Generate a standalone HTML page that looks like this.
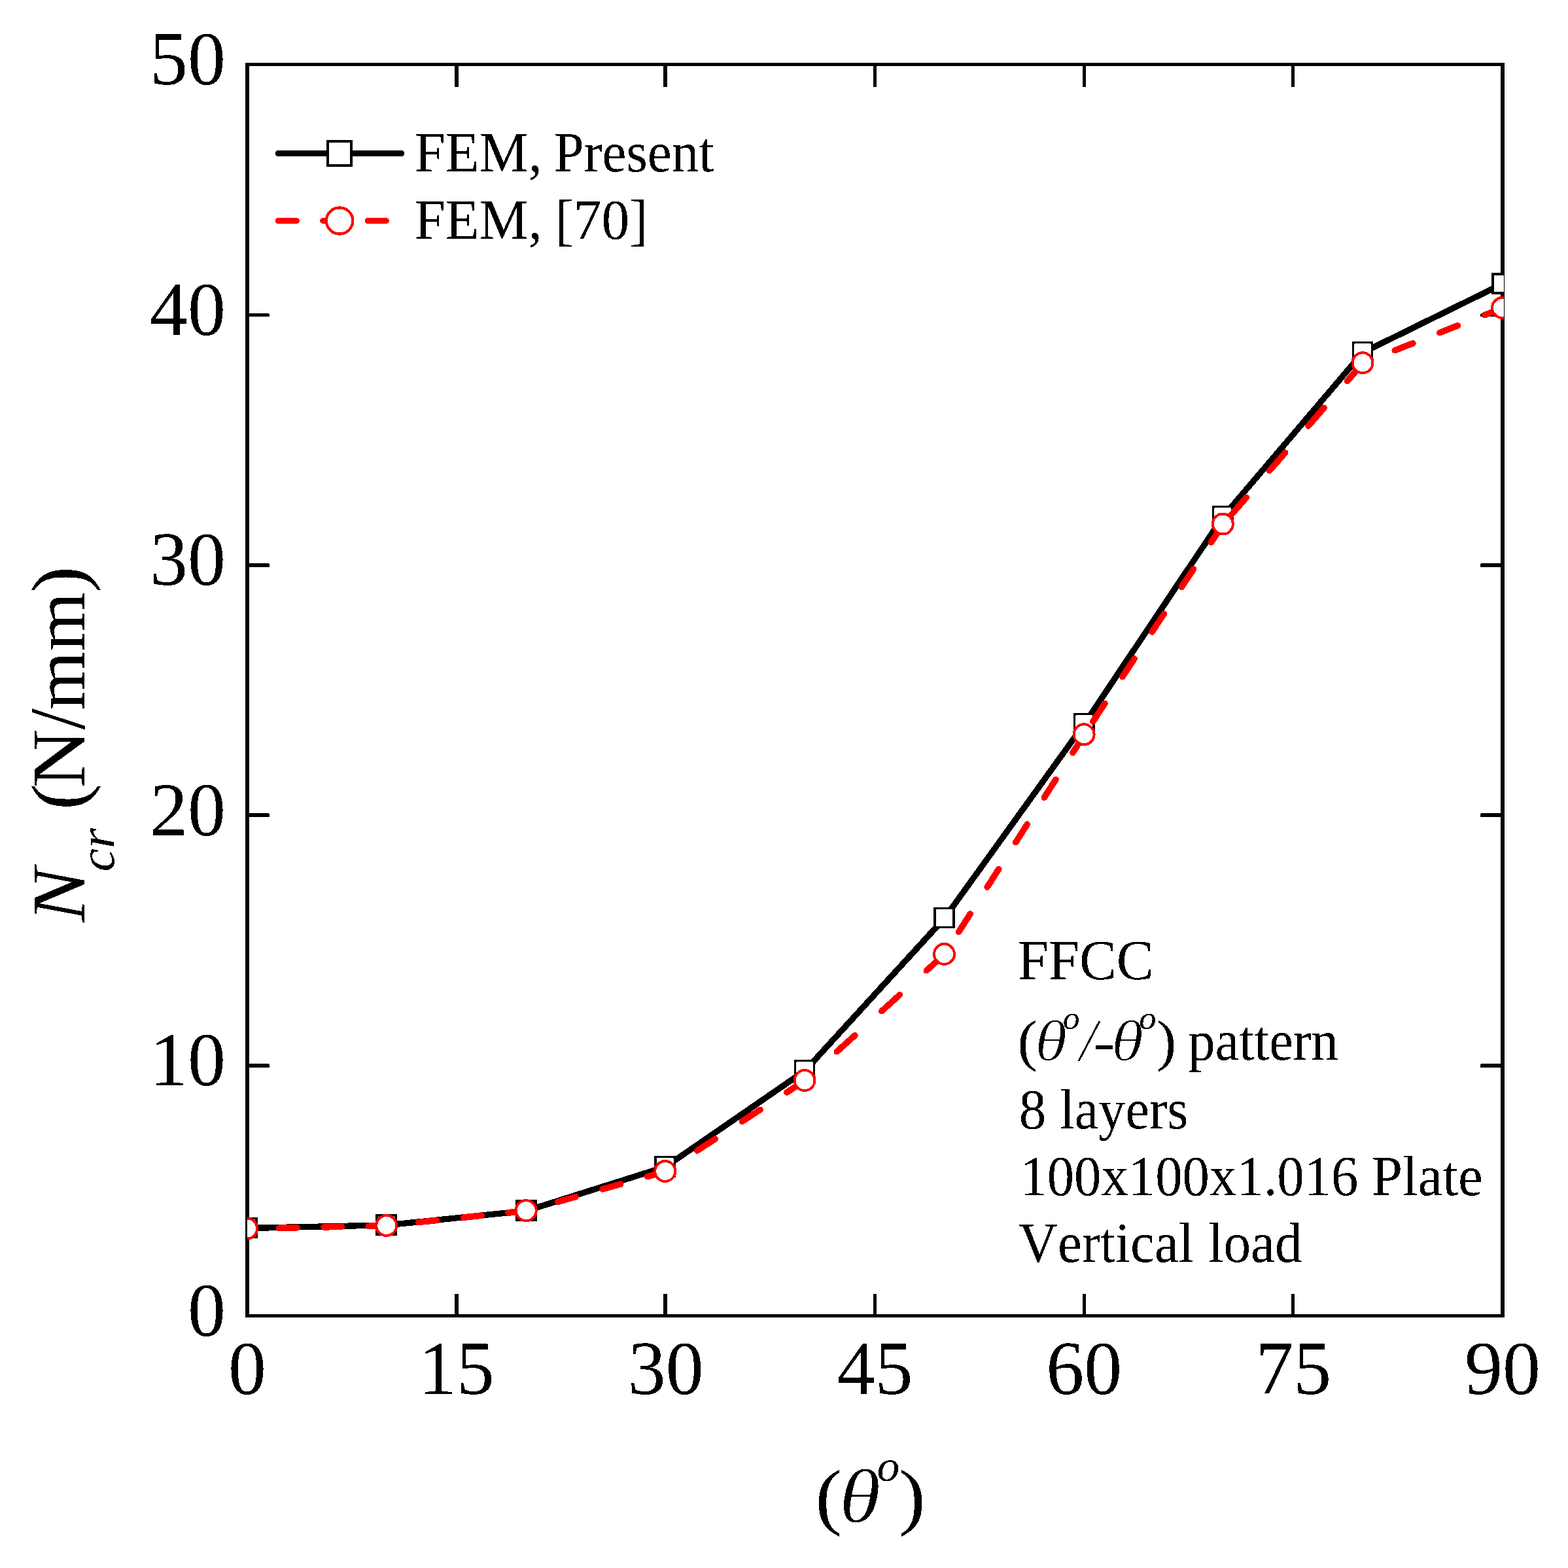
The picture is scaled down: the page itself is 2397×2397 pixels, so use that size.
<!DOCTYPE html>
<html lang="en"><head><meta charset="utf-8"><title>Critical buckling load vs fibre angle</title>
<style>html,body{margin:0;padding:0;background:#fff}svg{display:block}text{font-family:"Liberation Serif",serif;fill:#000;font-kerning:none}.it{font-style:italic}</style></head><body>
<svg width="2397" height="2397" viewBox="0 0 2397 2397">
<defs><clipPath id="plot"><rect x="378" y="96" width="1921" height="1918"/></clipPath><filter id="bin" filterUnits="userSpaceOnUse" x="0" y="0" width="2397" height="2397" color-interpolation-filters="sRGB"><feComponentTransfer><feFuncR type="discrete" tableValues="0 1"/><feFuncG type="discrete" tableValues="0 1"/><feFuncB type="discrete" tableValues="0 1"/></feComponentTransfer></filter></defs>
<rect width="2397" height="2397" fill="#fff"/>
<g id="figure" filter="url(#bin)">
<rect width="2397" height="2397" fill="#fff"/>
<g id="axes" shape-rendering="crispEdges">
<rect x="375" y="96" width="1925" height="5" fill="#000"/>
<rect x="375" y="2009" width="1925" height="5" fill="#000"/>
<rect x="375" y="96" width="6" height="1918" fill="#000"/>
<rect x="2294" y="96" width="6" height="1918" fill="#000"/>
</g>
<g id="ticks" fill="#000">
<rect x="695" y="98" width="6" height="35" rx="1.5"/>
<rect x="695" y="1978" width="6" height="34" rx="1"/>
<rect x="1014" y="98" width="6" height="35" rx="1.5"/>
<rect x="1014" y="1978" width="6" height="34" rx="1"/>
<rect x="1335" y="98" width="5" height="35" rx="1.5"/>
<rect x="1335" y="1978" width="5" height="34" rx="1"/>
<rect x="1655" y="98" width="5" height="35" rx="1.5"/>
<rect x="1655" y="1978" width="5" height="34" rx="1"/>
<rect x="1974" y="98" width="5" height="35" rx="1.5"/>
<rect x="1974" y="1978" width="5" height="34" rx="1"/>
<rect x="378" y="479" width="34" height="5" rx="1.5"/>
<rect x="2263" y="479" width="34" height="5" rx="1.5"/>
<rect x="378" y="861" width="34" height="6" rx="1.5"/>
<rect x="2263" y="861" width="34" height="6" rx="1.5"/>
<rect x="378" y="1243" width="34" height="6" rx="1.5"/>
<rect x="2263" y="1243" width="34" height="6" rx="1.5"/>
<rect x="378" y="1626" width="34" height="6" rx="1.5"/>
<rect x="2263" y="1626" width="34" height="6" rx="1.5"/>
</g>
<g id="ticklabels" font-size="116">
<text x="345" y="2042.0" text-anchor="end">0</text>
<text x="345" y="1659.4" text-anchor="end">10</text>
<text x="345" y="1276.8" text-anchor="end">20</text>
<text x="345" y="894.2" text-anchor="end">30</text>
<text x="345" y="511.6" text-anchor="end">40</text>
<text x="345" y="129.0" text-anchor="end">50</text>
<text x="378.0" y="2131" text-anchor="middle">0</text>
<text x="697.8" y="2131" text-anchor="middle">15</text>
<text x="1017.7" y="2131" text-anchor="middle">30</text>
<text x="1337.5" y="2131" text-anchor="middle">45</text>
<text x="1657.3" y="2131" text-anchor="middle">60</text>
<text x="1977.2" y="2131" text-anchor="middle">75</text>
<text x="2297.0" y="2131" text-anchor="middle">90</text>
</g>
<g id="data" clip-path="url(#plot)">
<polyline points="378.0,1877.5 591.2,1872.9 804.7,1851.0 1017.3,1783.7 1230.5,1636.8 1444.0,1403.5 1657.6,1106.8 1869.8,789.8 2083.5,538.8 2297.0,434.0" fill="none" stroke="#000" stroke-width="9.3" stroke-linejoin="round"/>
<rect x="362.85" y="1862.40" width="29.3" height="29.2" fill="#fff" stroke="#000" stroke-width="3.5"/>
<rect x="576.05" y="1857.80" width="29.3" height="29.2" fill="#fff" stroke="#000" stroke-width="3.5"/>
<rect x="789.55" y="1835.90" width="29.3" height="29.2" fill="#fff" stroke="#000" stroke-width="3.5"/>
<rect x="1002.15" y="1768.60" width="29.3" height="29.2" fill="#fff" stroke="#000" stroke-width="3.5"/>
<rect x="1215.35" y="1621.70" width="29.3" height="29.2" fill="#fff" stroke="#000" stroke-width="3.5"/>
<rect x="1428.85" y="1388.40" width="29.3" height="29.2" fill="#fff" stroke="#000" stroke-width="3.5"/>
<rect x="1642.45" y="1091.70" width="29.3" height="29.2" fill="#fff" stroke="#000" stroke-width="3.5"/>
<rect x="1854.65" y="774.70" width="29.3" height="29.2" fill="#fff" stroke="#000" stroke-width="3.5"/>
<rect x="2068.35" y="523.70" width="29.3" height="29.2" fill="#fff" stroke="#000" stroke-width="3.5"/>
<rect x="2281.85" y="418.90" width="29.3" height="29.2" fill="#fff" stroke="#000" stroke-width="3.5"/>
<line x1="591.1" y1="1873.8" x2="377.9" y2="1878.4" stroke="#f00" stroke-width="9.6" stroke-linecap="round" stroke-dasharray="27.61 40.91"/>
<line x1="804.6" y1="1850.9" x2="591.1" y2="1873.8" stroke="#f00" stroke-width="9.6" stroke-linecap="round" stroke-dasharray="27.76 41.13"/>
<line x1="1017.2" y1="1790.7" x2="804.6" y2="1850.9" stroke="#f00" stroke-width="9.6" stroke-linecap="round" stroke-dasharray="28.69 42.51"/>
<line x1="1230.4" y1="1651.9" x2="1017.2" y2="1790.7" stroke="#f00" stroke-width="9.6" stroke-linecap="round" stroke-dasharray="32.93 48.80"/>
<line x1="1443.9" y1="1458.8" x2="1230.4" y2="1651.9" stroke="#f00" stroke-width="9.6" stroke-linecap="round" stroke-dasharray="37.21 55.15"/>
<line x1="1657.5" y1="1123.1" x2="1443.9" y2="1458.8" stroke="#f00" stroke-width="9.6" stroke-linecap="round" stroke-dasharray="32.71 48.48"/>
<line x1="1869.7" y1="801.4" x2="1657.5" y2="1123.1" stroke="#f00" stroke-width="9.6" stroke-linecap="round" stroke-dasharray="33.06 49.00"/>
<line x1="2083.4" y1="555.0" x2="1869.7" y2="801.4" stroke="#f00" stroke-width="9.6" stroke-linecap="round" stroke-dasharray="36.53 54.14"/>
<line x1="2296.9" y1="470.8" x2="2083.4" y2="555.0" stroke="#f00" stroke-width="9.6" stroke-linecap="round" stroke-dasharray="29.67 43.97"/>
<circle cx="377.5" cy="1878.1" r="15.5" fill="#fff" stroke="#f00" stroke-width="4"/>
<circle cx="590.7" cy="1873.5" r="15.5" fill="#fff" stroke="#f00" stroke-width="4"/>
<circle cx="804.2" cy="1850.6" r="15.5" fill="#fff" stroke="#f00" stroke-width="4"/>
<circle cx="1016.8" cy="1790.4" r="15.5" fill="#fff" stroke="#f00" stroke-width="4"/>
<circle cx="1230.0" cy="1651.6" r="15.5" fill="#fff" stroke="#f00" stroke-width="4"/>
<circle cx="1443.5" cy="1458.5" r="15.5" fill="#fff" stroke="#f00" stroke-width="4"/>
<circle cx="1657.1" cy="1122.8" r="15.5" fill="#fff" stroke="#f00" stroke-width="4"/>
<circle cx="1869.3" cy="801.1" r="15.5" fill="#fff" stroke="#f00" stroke-width="4"/>
<circle cx="2083.0" cy="554.7" r="15.5" fill="#fff" stroke="#f00" stroke-width="4"/>
<circle cx="2296.5" cy="470.5" r="15.5" fill="#fff" stroke="#f00" stroke-width="4"/>
</g>
<g id="legend">
<line x1="425.3" y1="234.5" x2="613.7" y2="234.5" stroke="#000" stroke-width="9" stroke-linecap="round"/>
<rect x="501" y="216.25" width="36" height="36.5" fill="#fff" stroke="#000" stroke-width="4.3"/>
<line x1="425.3" y1="337.5" x2="600" y2="337.5" stroke="#f00" stroke-width="9" stroke-linecap="round" stroke-dasharray="28 40.5"/>
<circle cx="519.1" cy="337.5" r="20.2" fill="#fff" stroke="#f00" stroke-width="4.2"/>
<text transform="translate(633.56,262.30) scale(0.9743,1.0000)" font-size="87">FEM,</text>
<text transform="translate(846.60,262.30) scale(0.9561,1.0000)" font-size="87">Present</text>
<text transform="translate(633.56,365.20) scale(0.9743,1.0000)" font-size="87">FEM,</text>
<text transform="translate(848.36,365.20) scale(0.9824,1.0000)" font-size="87">[70]</text>
</g>
<g id="note">
<text transform="translate(1555.65,1496.70) scale(0.9761,1.0000)" font-size="87">FFCC</text>
<text class="it" transform="translate(1582.08,1621.23) scale(1.0073,0.8914)" font-size="100" stroke="#fff" stroke-width="1.69" stroke-linejoin="round">θ</text>
<text class="it" transform="translate(1650.54,1620.88) scale(0.9452,0.9403)" font-size="100" stroke="#fff" stroke-width="1.70" stroke-linejoin="round">/</text>
<text class="it" transform="translate(1698.79,1621.23) scale(1.0049,0.8914)" font-size="100" stroke="#fff" stroke-width="1.69" stroke-linejoin="round">θ</text>
<text transform="translate(1555.60,1619.71) scale(0.9111,0.8591)" font-size="100">(</text>
<text class="it" transform="translate(1624.66,1572.51) scale(0.5177,0.5032)" font-size="100">o</text>
<text class="it" transform="translate(1671.83,1621.18) scale(0.9894,0.8567)" font-size="100">-</text>
<text class="it" transform="translate(1741.33,1572.51) scale(0.5268,0.5032)" font-size="100">o</text>
<text transform="translate(1767.74,1619.71) scale(0.9189,0.8591)" font-size="100">)</text>
<text transform="translate(1816.17,1620.00) scale(0.9505,1.0000)" font-size="87">pattern</text>
<text transform="translate(1557.73,1724.5) scale(0.955,1)" font-size="87">8</text>
<text transform="translate(1619.95,1724.50) scale(0.9456,1.0000)" font-size="87">layers</text>
<text transform="translate(1559.33,1826.70) scale(0.9512,1.0000)" font-size="87">100x100x1.016</text>
<text transform="translate(2096.65,1826.70) scale(0.9784,1.0000)" font-size="87">Plate</text>
<text transform="translate(1556.97,1929.30) scale(0.9566,1.0000)" font-size="87">Vertical</text>
<text transform="translate(1847.34,1929.30) scale(0.9559,1.0000)" font-size="87">load</text>
</g>
<g id="xtitle">
<text class="it" transform="translate(1283.01,2327.37) scale(1.2890,1.1566)" font-size="100" stroke="#fff" stroke-width="0.98" stroke-linejoin="round">θ</text>
<text transform="translate(1246.46,2324.85) scale(1.2148,1.1205)" font-size="100">(</text>
<text class="it" transform="translate(1340.65,2264.34) scale(0.6880,0.6716)" font-size="100">o</text>
<text transform="translate(1373.96,2324.85) scale(1.2226,1.1205)" font-size="100">)</text>
</g>
<g id="ytitle">
<text class="it" transform="translate(129.00,1409.79) rotate(-90) scale(1.2460,1.1622)" font-size="100">N</text>
<text class="it" transform="translate(174.36,1332.56) rotate(-90) scale(0.7986,0.7547)" font-size="100">cr</text>
<text transform="translate(129.27,1238.07) rotate(-90) scale(1.1992,1.1569)" font-size="100">(</text>
<text transform="translate(129.00,1204.50) rotate(-90) scale(1.2485,1.1622)" font-size="100">N</text>
<text transform="translate(128.82,1115.40) rotate(-90) scale(1.1590,1.2109)" font-size="100">/</text>
<text transform="translate(129.00,1085.63) rotate(-90) scale(1.1593,1.1312)" font-size="100">mm</text>
<text transform="translate(129.27,905.90) rotate(-90) scale(1.2109,1.1569)" font-size="100">)</text>
</g>
</g>
</svg></body></html>
